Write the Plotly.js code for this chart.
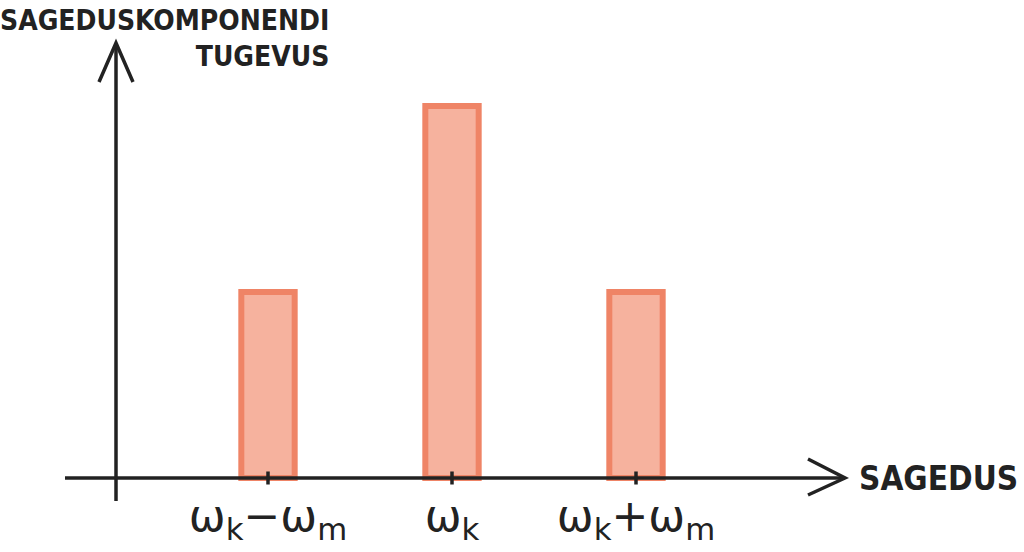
<!DOCTYPE html>
<html>
<head>
<meta charset="utf-8">
<script src="https://cdn.plot.ly/plotly-3.0.1.min.js"></script>
<style>html,body{margin:0;padding:0;background:#fff;}#chart{width:1024px;height:552px;}</style>
</head>
<body>
<div id="chart"></div>
<script>
// Data
const categories = ["ω<sub>k</sub>−ω<sub>m</sub>", "ω<sub>k</sub>", "ω<sub>k</sub>+ω<sub>m</sub>"];
const strengths = [1, 2, 1];
const xTitle = "SAGEDUS";
const yTitle = "SAGEDUSKOMPONENDI<br>TUGEVUS";

const positions = categories.map((c, i) => i);

// Pixel layout helpers (plot area: x 65..845, y 40..500)
const L = 65, R = 845, T = 40, B = 500, W = 1024, H = 552;
const px = v => (v - L) / (R - L);
const py = v => (B - v) / (B - T);

const ink = "#222222";
const titleFont = "'DejaVu Sans Condensed', 'DejaVu Sans', sans-serif";

const trace = {
  type: "bar",
  x: positions,
  y: strengths,
  width: 0.29,
  marker: { color: "#F6B29E", line: { color: "#EF8466", width: 6 } },
  hoverinfo: "skip"
};

const shapes = [
  { type: "line", xref: "paper", yref: "paper", x0: px(116), x1: px(116), y0: py(501), y1: py(43), line: { color: ink, width: 3.5 } },
  { type: "path", xref: "paper", yref: "paper",
    path: `M ${px(99)} ${py(82)} L ${px(116)} ${py(43)} L ${px(133)} ${py(82)}`,
    line: { color: ink, width: 3.5 } },
  { type: "line", xref: "paper", yref: "y", x0: px(65), x1: px(845), y0: 0, y1: 0, line: { color: ink, width: 3.5 } },
  { type: "path", xref: "paper", yref: "paper",
    path: `M ${px(808)} ${py(459)} L ${px(845)} ${py(478)} L ${px(808)} ${py(495)}`,
    line: { color: ink, width: 3.5 } }
];
positions.forEach(p => {
  shapes.push({ type: "line", xref: "x", yref: "y", x0: p, x1: p, y0: -0.035, y1: 0.035, line: { color: ink, width: 3.5 } });
});

const layout = {
  width: W, height: H,
  margin: { l: L, r: W - R, t: T, b: H - B },
  paper_bgcolor: "#fff", plot_bgcolor: "#fff",
  showlegend: false,
  xaxis: {
    range: [-(268 - L) / 184, (R - 268) / 184],
    tickvals: positions, ticktext: categories,
    showgrid: false, zeroline: false, showline: false, ticks: "",
    ticklabelstandoff: -14,
    tickfont: { family: "DejaVu Sans", size: 44, color: ink },
    fixedrange: true
  },
  yaxis: {
    range: [-(B - 478) / 186, (478 - T) / 186],
    showgrid: false, zeroline: false, showline: false, showticklabels: false, ticks: "",
    fixedrange: true
  },
  shapes: shapes,
  annotations: [
    { xref: "paper", yref: "paper", x: px(331), y: py(2), xanchor: "right", yanchor: "top",
      text: yTitle, align: "right", showarrow: false,
      font: { family: titleFont, size: 28, color: ink, weight: "bold" } },
    { xref: "paper", yref: "paper", x: px(857), y: py(478), xanchor: "left", yanchor: "middle",
      text: xTitle, showarrow: false,
      font: { family: titleFont, size: 33, color: ink, weight: "bold" } }
  ]
};

Plotly.newPlot("chart", [trace], layout, { staticPlot: true, displayModeBar: false });
</script>
</body>
</html>
